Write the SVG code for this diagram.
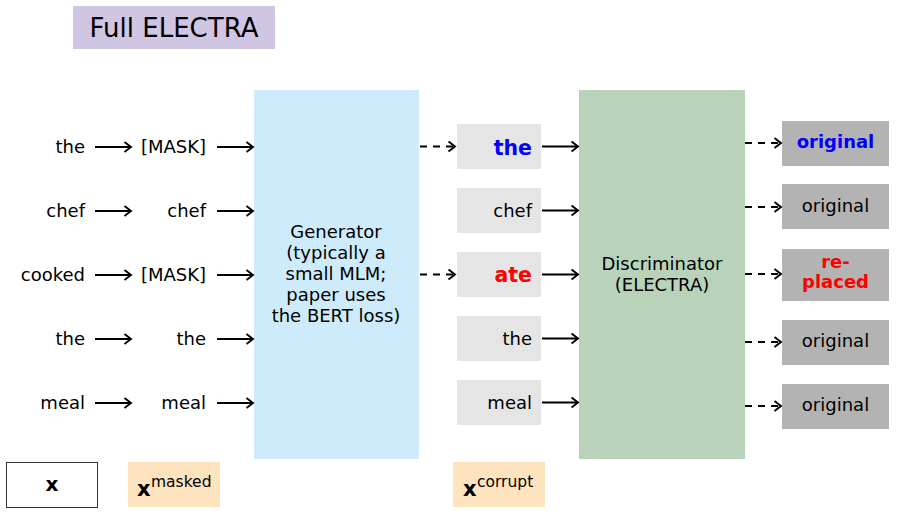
<svg xmlns="http://www.w3.org/2000/svg" width="897" height="514" viewBox="0 0 897 514">
<defs>
<marker id="ah" markerWidth="12" markerHeight="14" refX="9" refY="7" orient="auto" markerUnits="userSpaceOnUse">
<path d="M2.5,2 L9,7 L2.5,12" fill="none" stroke="#000" stroke-width="1.9"/>
</marker>
</defs>
<style>
text{font-family:"DejaVu Sans","Liberation Sans",sans-serif;font-size:18px;fill:#000}
.r{text-anchor:end}
.c{text-anchor:middle}
.b{font-weight:bold}
.blue{fill:#0000ff}
.red{fill:#ff0000}
.a{stroke:#000;stroke-width:1.9;fill:none;marker-end:url(#ah)}
.d{stroke-dasharray:7,6}
.tok{fill:#e5e5e5}
.out{fill:#b3b3b3}
.leg{fill:#fde3be}
</style>
<rect width="897" height="514" fill="#fff"/>
<g id="title">
<rect x="73" y="6" width="202" height="43" fill="#d0c5e3"/>
<text x="174" y="37" class="c" style="font-size:26px">Full ELECTRA</text>
</g>
<g id="input">
<text x="85" y="153" class="r">the</text>
<text x="85" y="217" class="r">chef</text>
<text x="85" y="281" class="r">cooked</text>
<text x="85" y="345" class="r">the</text>
<text x="85" y="409" class="r">meal</text>
</g>
<g id="masked">
<text x="206" y="153" class="r">[MASK]</text>
<text x="206" y="217" class="r">chef</text>
<text x="206" y="281" class="r">[MASK]</text>
<text x="206" y="345" class="r">the</text>
<text x="206" y="409" class="r">meal</text>
</g>
<g id="generator">
<rect x="254" y="90" width="165" height="369" fill="#cdebfb"/>
<text x="336" y="238" class="c">Generator</text>
<text x="336" y="259" class="c">(typically a</text>
<text x="336" y="280" class="c">small MLM;</text>
<text x="336" y="301" class="c">paper uses</text>
<text x="336" y="322" class="c">the BERT loss)</text>
</g>
<g id="corrupt">
<rect x="457" y="124" width="84" height="45" class="tok"/>
<text x="532" y="155" class="r b blue" style="font-size:20.5px">the</text>
<rect x="457" y="188" width="84" height="45" class="tok"/>
<text x="532" y="217" class="r">chef</text>
<rect x="457" y="252" width="84" height="45" class="tok"/>
<text x="532" y="282" class="r b red" style="font-size:20.5px">ate</text>
<rect x="457" y="316" width="84" height="45" class="tok"/>
<text x="532" y="345" class="r">the</text>
<rect x="457" y="380" width="84" height="45" class="tok"/>
<text x="532" y="409" class="r">meal</text>
</g>
<g id="discriminator">
<rect x="579" y="90" width="166" height="369" fill="#b9d3bb"/>
<text x="662" y="270" class="c">Discriminator</text>
<text x="662" y="291" class="c">(ELECTRA)</text>
</g>
<g id="outputs">
<rect x="782" y="121" width="107" height="45" class="out"/>
<text x="835.5" y="148" class="c b blue">original</text>
<rect x="782" y="184" width="107" height="45" class="out"/>
<text x="835.5" y="212" class="c">original</text>
<rect x="782" y="249" width="107" height="52" class="out"/>
<text x="835.5" y="268" class="c b red">re-</text>
<text x="835.5" y="288" class="c b red">placed</text>
<rect x="782" y="320" width="107" height="45" class="out"/>
<text x="835.5" y="347" class="c">original</text>
<rect x="782" y="384" width="107" height="45" class="out"/>
<text x="835.5" y="411" class="c">original</text>
</g>
<g id="legend-x">
<rect x="6.5" y="462.5" width="91" height="45" fill="#fff" stroke="#333" stroke-width="1"/>
<text x="52" y="491" class="c b" style="font-size:20px">x</text>
</g>
<g id="legend-masked">
<rect x="128" y="462" width="92" height="45" class="leg"/>
<text x="137" y="496" class="b" style="font-size:21px">x</text>
<text x="151" y="487" style="font-size:15.5px">masked</text>
</g>
<g id="legend-corrupt">
<rect x="453" y="462" width="92" height="45" class="leg"/>
<text x="463" y="496" class="b" style="font-size:21px">x</text>
<text x="477" y="487" style="font-size:15.5px">corrupt</text>
</g>
<g id="connectors">
<line x1="95" y1="147" x2="131" y2="147" class="a"/>
<line x1="95" y1="211" x2="131" y2="211" class="a"/>
<line x1="95" y1="275" x2="131" y2="275" class="a"/>
<line x1="95" y1="339" x2="131" y2="339" class="a"/>
<line x1="95" y1="403" x2="131" y2="403" class="a"/>
<line x1="217" y1="147" x2="253" y2="147" class="a"/>
<line x1="217" y1="211" x2="253" y2="211" class="a"/>
<line x1="217" y1="275" x2="253" y2="275" class="a"/>
<line x1="217" y1="339" x2="253" y2="339" class="a"/>
<line x1="217" y1="403" x2="253" y2="403" class="a"/>
<line x1="420" y1="146.5" x2="455" y2="146.5" class="a d"/>
<line x1="420" y1="274.5" x2="455" y2="274.5" class="a d"/>
<line x1="542" y1="146.5" x2="578" y2="146.5" class="a"/>
<line x1="542" y1="210.5" x2="578" y2="210.5" class="a"/>
<line x1="542" y1="274.5" x2="578" y2="274.5" class="a"/>
<line x1="542" y1="338.5" x2="578" y2="338.5" class="a"/>
<line x1="542" y1="402.5" x2="578" y2="402.5" class="a"/>
<line x1="745" y1="143" x2="781" y2="143" class="a d"/>
<line x1="745" y1="207" x2="781" y2="207" class="a d"/>
<line x1="745" y1="274" x2="781" y2="274" class="a d"/>
<line x1="745" y1="342" x2="781" y2="342" class="a d"/>
<line x1="745" y1="406" x2="781" y2="406" class="a d"/>
</g>
</svg>
